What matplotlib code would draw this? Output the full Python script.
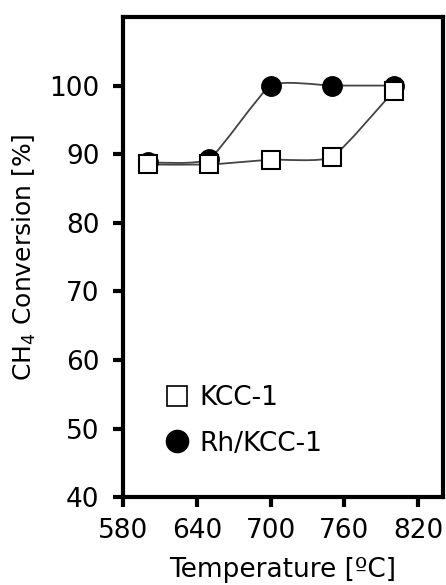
import matplotlib
matplotlib.use("Agg")
import matplotlib.pyplot as plt
from matplotlib.path import Path
from matplotlib.patches import PathPatch
from matplotlib.lines import Line2D

plt.rcParams['font.family'] = ['DejaVu Sans']

temperature = [600, 650, 700, 750, 800]
kcc1 = [88.5, 88.5, 89.2, 89.6, 99.2]
rh_kcc1 = [88.8, 89.3, 100.0, 100.0, 100.0]
xticks = [580, 640, 700, 760, 820]
yticks = [40, 50, 60, 70, 80, 90, 100]


def smooth_path(xs, ys, k=12.0):
    pts = list(zip(xs, ys))
    verts = [pts[0]]
    codes = [Path.MOVETO]
    n = len(pts)
    for i in range(n - 1):
        p0 = pts[i - 1] if i > 0 else pts[i]
        p1 = pts[i]
        p2 = pts[i + 1]
        p3 = pts[i + 2] if i + 2 < n else pts[i + 1]
        c1 = (p1[0] + (p2[0] - p0[0]) / k, p1[1] + (p2[1] - p0[1]) / k)
        c2 = (p2[0] - (p3[0] - p1[0]) / k, p2[1] - (p3[1] - p1[1]) / k)
        verts += [c1, c2, p2]
        codes += [Path.CURVE4] * 3
    return Path(verts, codes)


fig = plt.figure(figsize=(4.46, 5.85), dpi=100)
ax = fig.add_axes([0.276, 0.150, 0.717, 0.821])

for ys in (rh_kcc1, kcc1):
    ax.add_patch(PathPatch(smooth_path(temperature, ys), facecolor='none',
                           edgecolor='#444444', lw=1.3, zorder=2))

ax.plot(temperature, rh_kcc1, linestyle='none', marker='o', ms=14,
        mfc='black', mec='black', zorder=3)
ax.plot(temperature, kcc1, linestyle='none', marker='s', ms=13.5,
        mfc='white', mec='black', mew=1.5, zorder=4)

ax.set_xlim(580, 840)
ax.set_ylim(40, 110)
ax.set_xticks(xticks)
ax.set_yticks(yticks)
ax.tick_params(direction='out', length=7, width=3, labelsize=19)
ax.tick_params(axis='y', pad=10)
ax.tick_params(axis='x', pad=8)
for s in ax.spines.values():
    s.set_linewidth(3)

ax.set_xlabel('Temperature [ºC]', fontsize=19, labelpad=9)
ax.set_ylabel('CH$_4$ Conversion [%]', fontsize=18, labelpad=8)

handles = [
    Line2D([], [], linestyle='none', marker='s', ms=15, mfc='white', mec='black', mew=1.2),
    Line2D([], [], linestyle='none', marker='o', ms=16, mfc='black', mec='black'),
]
ax.legend(handles, ['KCC-1', 'Rh/KCC-1'], loc='lower left',
          bbox_to_anchor=(0.06, 0.035), frameon=False, fontsize=19,
          handlelength=0.8, handletextpad=0.45, labelspacing=0.75)

fig.savefig('out.png', dpi=100)
